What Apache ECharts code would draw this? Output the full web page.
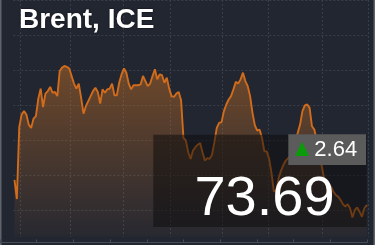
<!DOCTYPE html>
<html><head><meta charset="utf-8">
<script src="https://cdn.jsdelivr.net/npm/echarts@6/dist/echarts.min.js"></script>
<style>html,body{margin:0;padding:0;background:#222631;overflow:hidden}#c{width:375px;height:245px;}</style>
</head><body><div id="c"></div>
<script>
const titleText = 'Brent, ICE';
const lastPrice = '73.69';
const change = '2.64';
const monthNames = ['M0', 'M1', 'M2', 'M3', 'M4', 'M5', 'M6', 'M7'];
const tradingDaysPerMonth = [3, 21, 22, 20, 22, 19, 23, 19];
const prices = [
  74.31, 71.56, 81.84, 83.64, 84.12, 83.64, 82.20, 81.72, 83.04, 83.40,
  85.91, 87.34, 84.71, 86.63, 86.99, 87.58, 86.75, 86.87, 86.27, 89.86,
  90.34, 90.57, 90.46, 90.22, 89.14, 88.06, 87.34, 88.06, 86.03, 83.76,
  84.83, 85.55, 86.27, 86.99, 87.46, 86.87, 85.19, 87.23, 86.75, 87.23,
  87.34, 88.06, 86.39, 86.39, 88.18, 89.38, 90.22, 89.62, 88.06, 87.23,
  87.82, 87.82, 87.82, 87.94, 89.14, 88.42, 87.70, 88.06, 89.14, 90.10,
  88.66, 89.38, 89.26, 88.18, 88.90, 87.34, 86.27, 86.15, 86.63, 86.87,
  85.67, 80.29, 79.93, 78.25, 77.30, 78.49, 78.97, 79.33, 79.57, 78.25,
  77.06, 77.42, 77.30, 77.89, 79.69, 81.72, 82.44, 82.56, 84.12, 85.07,
  85.79, 86.27, 87.23, 88.30, 88.06, 88.66, 89.62, 88.42, 87.70, 86.27,
  83.88, 82.08, 81.36, 81.48, 80.29, 78.37, 78.37, 77.30, 75.26, 72.63,
  72.87, 74.55, 75.62, 76.46, 77.06, 77.42, 77.78, 78.37, 79.93, 81.01,
  82.20, 84.12, 84.95, 85.07, 84.59, 81.96, 81.48, 79.93, 78.13, 76.46,
  74.67, 74.19, 73.71, 73.35, 72.63, 72.15, 71.91, 71.44, 70.84, 70.48,
  70.84, 70.24, 68.92, 70.00, 70.36, 69.76, 69.04, 70.24, 70.72
];
const yMin = 65, yMax = 100, yStep = 5;

// category labels: one per trading day, grouped by month
const categories = [];
const monthStarts = new Set();
tradingDaysPerMonth.forEach(function (n, m) {
  if (m > 0) monthStarts.add(categories.length);
  for (let d = 1; d <= n; d++) categories.push(monthNames[m] + '-' + d);
});

const BG = '#222631';
const GRIDC = '#393e4b';
const chart = echarts.init(document.getElementById('c'), null, {renderer: 'canvas', width: 375, height: 245});
chart.setOption({
  backgroundColor: BG,
  animation: false,
  grid: [
    {left: 13.3, right: 7.1, top: -26.8, bottom: -20.8},
    {left: 0, right: 8, bottom: 2.5, height: 0}
  ],
  xAxis: [
    {
      type: 'category', data: categories, boundaryGap: true,
      axisLine: {show: false}, axisTick: {show: false}, axisLabel: {show: false},
      splitLine: {show: true, interval: function (i) { return monthStarts.has(i); },
        lineStyle: {color: GRIDC, width: 1, type: [2, 2]}}
    },
    {
      gridIndex: 1, type: 'value', min: 0, max: 10, interval: 1, z: 200,
      axisLine: {lineStyle: {color: '#474b55', width: 1}},
      axisTick: {inside: true, length: 3, lineStyle: {color: '#474b55'}},
      axisLabel: {show: false}, splitLine: {show: false}
    }
  ],
  yAxis: [
    {
      type: 'value', min: yMin, max: yMax, interval: yStep,
      axisLine: {show: false}, axisTick: {show: false}, axisLabel: {show: false},
      splitLine: {show: true, lineStyle: {color: GRIDC, width: 1, type: [2, 2]}}
    },
    {gridIndex: 1, type: 'value', show: false, min: 0, max: 1}
  ],
  series: [{
    type: 'line', data: prices, symbol: 'none', z: 5,
    lineStyle: {color: '#d06c1c', width: 1.9},
    areaStyle: {
      color: new echarts.graphic.LinearGradient(0, 0, 0, 1, [
        {offset: 0, color: 'rgba(205,115,35,0.64)'},
        {offset: 1, color: 'rgba(205,115,35,0.02)'}
      ])
    }
  }],
  graphic: [
    {type: 'rect', z: 100, shape: {x: 0, y: 236.7, width: 375, height: 8.3}, style: {fill: BG}},
    {type: 'rect', z: 101, shape: {x: 0, y: 0, width: 1.5, height: 245}, style: {fill: '#5f636b'}},
    {type: 'rect', z: 101, shape: {x: 373.5, y: 0, width: 1.5, height: 245}, style: {fill: '#5f636b'}},
    {type: 'rect', z: 110, shape: {x: 153.3, y: 134.7, width: 213.4, height: 92.3}, style: {fill: 'rgba(10,10,10,0.5)'}},
    {type: 'rect', z: 111, shape: {x: 288.3, y: 134.3, width: 77.7, height: 30.7}, style: {fill: '#5b5b5b'}},
    {type: 'polygon', z: 112, shape: {points: [[295, 156], [302, 141.7], [309, 156]]}, style: {fill: '#0a9b0a'}},
    {type: 'text', z: 112, x: 314.3, y: 149.5, style: {text: change, fill: '#ffffff', font: '22px "Liberation Sans", Arial, sans-serif', align: 'left', verticalAlign: 'middle'}},
    {type: 'text', z: 112, x: 194.4, y: 199.7, style: {text: lastPrice, fill: '#ffffff', font: '56px "Liberation Sans", Arial, sans-serif', align: 'left', verticalAlign: 'middle'}},
    {type: 'text', z: 112, x: 19, y: 20, style: {text: titleText, fill: '#ffffff', font: 'bold 28px "Liberation Sans", Arial, sans-serif', align: 'left', verticalAlign: 'middle', textShadowColor: 'rgba(0,0,0,0.9)', textShadowBlur: 2}}
  ]
});
</script>
</body></html>
